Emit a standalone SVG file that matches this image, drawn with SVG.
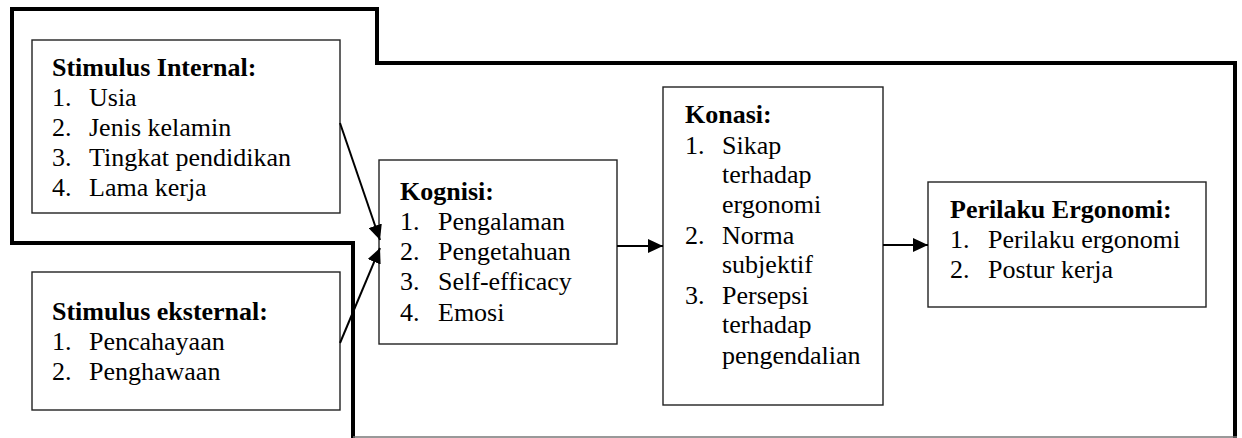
<svg xmlns="http://www.w3.org/2000/svg" width="1242" height="438" viewBox="0 0 1242 438">
  <style>
    .box { fill: #ffffff; stroke: #222222; stroke-width: 1.4; }
    .frame { fill: none; stroke: #000000; stroke-width: 4; stroke-linejoin: miter; }
    .frame-base { fill: none; stroke: #777777; stroke-width: 1.5; }
    .link { fill: none; stroke: #000000; stroke-width: 2; }
    text { font-size: 26px; fill: #000000; }
    .head { font-weight: bold; }
  </style>
  <defs>
    <marker id="arrow" markerUnits="userSpaceOnUse" markerWidth="16" markerHeight="14" refX="15" refY="7" orient="auto">
      <path d="M0,0 L15,7 L0,14 Z" fill="#000000"/>
    </marker>
  </defs>

  <rect width="1242" height="438" fill="#ffffff"/>

  <!-- stepped boundary around the model -->
  <g id="boundary">
    <path class="frame" d="M353,438 L353,243 L12,243 L12,9 L377,9 L377,63 L1235,63 L1235,438"/>
    <line class="frame-base" x1="353" y1="437" x2="1237" y2="437"/>
  </g>

  <g font-family="Liberation Serif, Tinos, DejaVu Serif, serif">
  <g id="stimulus-internal">
    <rect class="box" x="32" y="40" width="308" height="173"/>
    <text class="head" x="52" y="76">Stimulus Internal:</text>
    <text x="52" y="106">1.</text><text x="89" y="106">Usia</text>
    <text x="52" y="136">2.</text><text x="89" y="136">Jenis kelamin</text>
    <text x="52" y="166">3.</text><text x="89" y="166">Tingkat pendidikan</text>
    <text x="52" y="196">4.</text><text x="89" y="196">Lama kerja</text>
  </g>

  <g id="stimulus-eksternal">
    <rect class="box" x="32" y="272" width="308" height="138"/>
    <text class="head" x="52" y="320">Stimulus eksternal:</text>
    <text x="52" y="350">1.</text><text x="89" y="350">Pencahayaan</text>
    <text x="52" y="380">2.</text><text x="89" y="380">Penghawaan</text>
  </g>

  <g id="kognisi">
    <rect class="box" x="379" y="160" width="238" height="184"/>
    <text class="head" x="400" y="200">Kognisi:</text>
    <text x="400" y="230">1.</text><text x="438" y="230">Pengalaman</text>
    <text x="400" y="260">2.</text><text x="438" y="260">Pengetahuan</text>
    <text x="400" y="290">3.</text><text x="438" y="290">Self-efficacy</text>
    <text x="400" y="321">4.</text><text x="438" y="321">Emosi</text>
  </g>

  <g id="konasi">
    <rect class="box" x="663" y="87" width="220" height="318"/>
    <text class="head" x="685" y="123">Konasi:</text>
    <text x="685" y="154">1.</text><text x="722" y="154">Sikap</text>
    <text x="722" y="183">terhadap</text>
    <text x="722" y="213">ergonomi</text>
    <text x="685" y="244">2.</text><text x="722" y="244">Norma</text>
    <text x="722" y="273">subjektif</text>
    <text x="685" y="304">3.</text><text x="722" y="304">Persepsi</text>
    <text x="722" y="333">terhadap</text>
    <text x="722" y="364">pengendalian</text>
  </g>

  <g id="perilaku-ergonomi">
    <rect class="box" x="928" y="182" width="278" height="125"/>
    <text class="head" x="950" y="218">Perilaku Ergonomi:</text>
    <text x="950" y="248">1.</text><text x="988" y="248">Perilaku ergonomi</text>
    <text x="950" y="278">2.</text><text x="988" y="278">Postur kerja</text>
  </g>
  </g>

  <g id="connectors">
    <line class="link" x1="340" y1="123" x2="380" y2="240" marker-end="url(#arrow)"/>
    <line class="link" x1="340" y1="343" x2="380" y2="248" marker-end="url(#arrow)"/>
    <line class="link" x1="617" y1="246" x2="663" y2="246" marker-end="url(#arrow)"/>
    <line class="link" x1="883" y1="245" x2="928" y2="245" marker-end="url(#arrow)"/>
  </g>
</svg>
